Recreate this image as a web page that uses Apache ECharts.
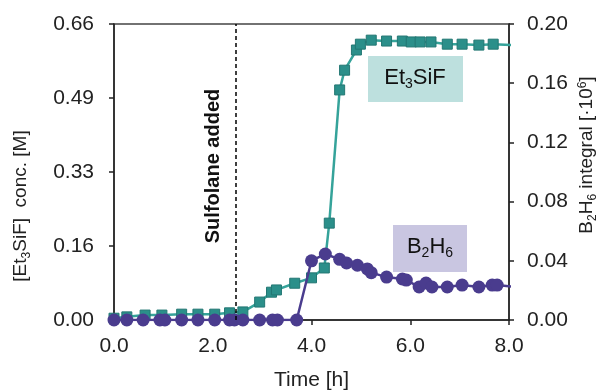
<!DOCTYPE html>
<html>
<head>
<meta charset="utf-8">
<script src="https://cdn.jsdelivr.net/npm/echarts@6/dist/echarts.min.js"></script>
<style>
  html, body { margin: 0; padding: 0; background: #fff; }
  #chart { width: 605px; height: 390px; }
</style>
</head>
<body>
<div id="chart"></div>
<script>
// Time axis ticks and left/right axis tick labels
const timeTicks = [0, 2, 4, 6, 8];
const concTickLabels = ['0.00', '0.16', '0.33', '0.49', '0.66'];
const integralTickLabels = ['0.00', '0.04', '0.08', '0.12', '0.16', '0.20'];

// Et3SiF concentration [M] vs time [h]
const et3sifTime = [0.00, 0.26, 0.63, 0.97, 1.37, 1.70, 2.04, 2.34, 2.61, 2.95, 3.19, 3.29, 3.66, 4.00, 4.26, 4.36, 4.57, 4.67, 4.91, 4.99, 5.21, 5.52, 5.84, 6.02, 6.20, 6.42, 6.75, 7.05, 7.39, 7.68, 8.20];
const et3sifConc = [0.004, 0.007, 0.011, 0.011, 0.013, 0.013, 0.013, 0.016, 0.018, 0.040, 0.062, 0.067, 0.082, 0.094, 0.116, 0.216, 0.513, 0.557, 0.602, 0.615, 0.624, 0.622, 0.622, 0.620, 0.620, 0.620, 0.615, 0.615, 0.613, 0.615, 0.612];

// B2H6 integral [·10^6] vs time [h]
const b2h6Time = [0.00, 0.26, 0.59, 0.93, 1.03, 1.37, 1.70, 2.04, 2.34, 2.44, 2.61, 2.95, 3.21, 3.31, 3.70, 4.00, 4.28, 4.57, 4.71, 4.93, 5.13, 5.21, 5.52, 5.84, 5.92, 6.18, 6.32, 6.44, 6.75, 7.05, 7.39, 7.66, 7.76, 8.20];
const b2h6Integral = [0, 0, 0, 0, 0, 0, 0, 0, 0, 0, 0, 0, 0, 0, 0, 0.0400, 0.0446, 0.0410, 0.0385, 0.0370, 0.0345, 0.0320, 0.0290, 0.0277, 0.0270, 0.0223, 0.0250, 0.0223, 0.0223, 0.0236, 0.0223, 0.0236, 0.0236, 0.0222];

// Time at which sulfolane was added
const sulfolaneTime = 2.46;

const FONT = '"Liberation Sans", Arial, sans-serif';
const AXIS_COLOR = '#222';
const TEAL_LINE = '#35A39A';
const TEAL_MARK = '#2B8F8A';
const PURPLE = '#4A3C8E';

const pair = (xs, ys) => xs.map((x, i) => [x, ys[i]]);

const chart = echarts.init(document.getElementById('chart'), null, { renderer: 'canvas' });

const axisLine = { show: true, lineStyle: { color: AXIS_COLOR, width: 1.5 } };
const axisTick = { show: true, inside: false, length: 5, lineStyle: { color: AXIS_COLOR, width: 1.5 } };
const tickFont = { fontFamily: FONT, fontSize: 21, color: '#222' };

// rich-text styles: normal run, subscript, superscript
const richText = (size) => ({
  a: { fontFamily: FONT, fontSize: size, lineHeight: size + 3, verticalAlign: 'top' },
  s: { fontFamily: FONT, fontSize: Math.round(size * 0.62), lineHeight: 6, verticalAlign: 'bottom' },
  p: { fontFamily: FONT, fontSize: Math.round(size * 0.62), lineHeight: 8, verticalAlign: 'top' }
});

chart.setOption({
  animation: false,
  backgroundColor: '#fff',
  grid: {
    left: 114, right: 96, top: 24, bottom: 70,
    outerBoundsMode: 'none',
    containLabel: false,
    show: true, borderColor: '#444', borderWidth: 1.5, backgroundColor: 'transparent'
  },
  xAxis: {
    type: 'value',
    min: timeTicks[0], max: timeTicks[timeTicks.length - 1], interval: timeTicks[1] - timeTicks[0],
    axisLine, axisTick,
    splitLine: { show: false },
    axisLabel: Object.assign({ margin: 16, formatter: v => v.toFixed(1) }, tickFont),
    name: 'Time [h]',
    nameLocation: 'middle',
    nameGap: 50,
    nameTextStyle: { fontFamily: FONT, fontSize: 21, color: '#222' }
  },
  yAxis: [
    {
      type: 'value', min: 0, max: 0.66, interval: 0.165,
      axisLine, axisTick,
      splitLine: { show: false },
      axisLabel: Object.assign({ margin: 20, formatter: v => concTickLabels[Math.round(v / 0.165)] }, tickFont)
    },
    {
      type: 'value', min: 0, max: 0.20, interval: 0.04, position: 'right',
      axisLine, axisTick,
      splitLine: { show: false },
      axisLabel: Object.assign({ margin: 18, formatter: v => integralTickLabels[Math.round(v / 0.04)] }, tickFont)
    }
  ],
  series: [
    {
      name: 'Et3SiF',
      type: 'line',
      yAxisIndex: 0,
      data: pair(et3sifTime, et3sifConc),
      clip: true,
      symbol: 'rect',
      symbolSize: 10,
      lineStyle: { color: TEAL_LINE, width: 2.5 },
      itemStyle: { color: TEAL_MARK, borderColor: '#237773', borderWidth: 1 },
      z: 2,
      markLine: {
        silent: true,
        symbol: 'none',
        label: { show: false },
        lineStyle: { color: '#000', type: [4, 3], width: 1.5 },
        data: [{ xAxis: sulfolaneTime }]
      }
    },
    {
      name: 'B2H6',
      type: 'line',
      yAxisIndex: 1,
      data: pair(b2h6Time, b2h6Integral),
      clip: true,
      symbol: 'circle',
      symbolSize: 13,
      lineStyle: { color: PURPLE, width: 2.5 },
      itemStyle: { color: PURPLE },
      z: 3
    }
  ],
  graphic: [
    // left axis name
    {
      type: 'text', x: 22, y: 206, rotation: Math.PI / 2,
      style: {
        text: '{a|[Et}{s|3}{a|SiF]  conc. [M]}',
        align: 'center', verticalAlign: 'middle', fill: '#222',
        rich: richText(19)
      }
    },
    // right axis name
    {
      type: 'text', x: 588, y: 155, rotation: Math.PI / 2,
      style: {
        text: '{a|B}{s|2}{a|H}{s|6}{a| integral [·10}{p|6}{a|]}',
        align: 'center', verticalAlign: 'middle', fill: '#222',
        rich: richText(19)
      }
    },
    // sulfolane annotation
    {
      type: 'text', x: 213, y: 166, rotation: Math.PI / 2,
      style: {
        text: 'Sulfolane added', align: 'center', verticalAlign: 'middle',
        fill: '#111', font: 'bold 20px ' + FONT
      }
    },
    // Et3SiF label box
    {
      type: 'rect', shape: { x: 368, y: 56, width: 95, height: 46 },
      style: { fill: '#BDE0DE' }, z: 10
    },
    {
      type: 'text', x: 415, y: 79, z: 11,
      style: {
        text: '{a|Et}{s|3}{a|SiF}', align: 'center', verticalAlign: 'middle', fill: '#111',
        rich: richText(22)
      }
    },
    // B2H6 label box
    {
      type: 'rect', shape: { x: 393, y: 225, width: 74, height: 47 },
      style: { fill: '#C9C6E1' }, z: 10
    },
    {
      type: 'text', x: 430, y: 248, z: 11,
      style: {
        text: '{a|B}{s|2}{a|H}{s|6}', align: 'center', verticalAlign: 'middle', fill: '#111',
        rich: richText(22)
      }
    }
  ]
});
</script>
</body>
</html>
